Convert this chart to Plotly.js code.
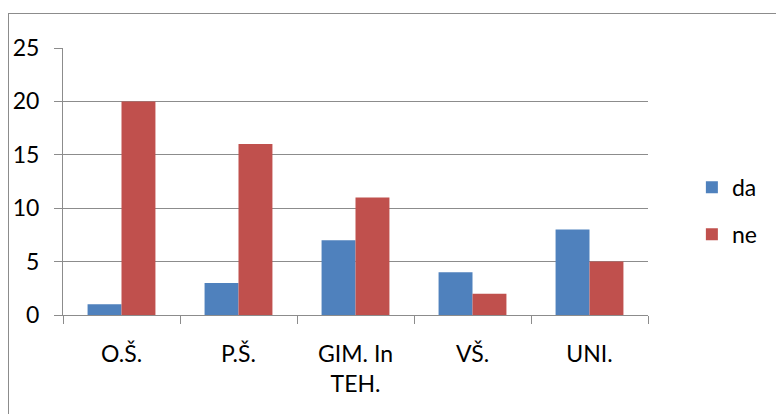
<!DOCTYPE html>
<html>
<head>
<meta charset="utf-8">
<script src="https://cdn.plot.ly/plotly-3.0.1.min.js"></script>
<style>
  html, body { margin: 0; padding: 0; background: #fff; }
  #wrap { position: relative; width: 776px; height: 414px; overflow: hidden; }
  #frame { position: absolute; left: 8px; top: 13px; width: 800px; height: 500px;
           border-left: 1px solid #8c8c8c; border-top: 1px solid #8c8c8c; }
  #chart { position: absolute; left: 0; top: 0; width: 776px; height: 414px; }
</style>
</head>
<body>
<div id="wrap">
  <div id="frame"></div>
  <div id="chart"></div>
</div>
<script>
const categories = ["O.Š.", "P.Š.", "GIM. In<br>TEH.", "VŠ.", "UNI."];
const daValues = [1, 3, 7, 4, 8];
const neValues = [20, 16, 11, 2, 5];
const seriesNames = ["da", "ne"];
const yTicks = [0, 5, 10, 15, 20, 25];

const font = { family: "Lato, 'Open Sans', sans-serif", size: 23, color: "#000" };

const traces = [
  { type: "bar", name: seriesNames[0], x: categories, y: daValues,
    marker: { color: "#4F81BD" }, legendgroup: "a" },
  { type: "bar", name: seriesNames[1], x: categories, y: neValues,
    marker: { color: "#C0504D" }, legendgroup: "b" }
];

const layout = {
  width: 776, height: 414,
  paper_bgcolor: "rgba(0,0,0,0)", plot_bgcolor: "rgba(0,0,0,0)",
  margin: { l: 63, r: 128, t: 48, b: 99, pad: 0 },
  font: font,
  barmode: "group", bargap: 0.42, bargroupgap: 0,
  showlegend: true,
  legend: { x: 1.075, y: 0.39, xanchor: "left", yanchor: "middle",
            traceorder: "grouped", tracegroupgap: 14, font: font,
            bgcolor: "rgba(0,0,0,0)" },
  xaxis: { type: "category", tickson: "boundaries", ticks: "outside", ticklen: 8,
           tickcolor: "#8c8c8c", showline: true, linecolor: "#8c8c8c", linewidth: 1,
           showgrid: false, ticklabelstandoff: 18, tickfont: font, fixedrange: true },
  yaxis: { range: [0, 25], tickvals: yTicks, ticks: "outside", ticklen: 8,
           tickcolor: "#8c8c8c", showline: true, linecolor: "#8c8c8c", linewidth: 1,
           gridcolor: "#8c8c8c", gridwidth: 1, zeroline: false,
           ticklabelstandoff: 10, tickfont: font, fixedrange: true }
};

Plotly.newPlot("chart", traces, layout, { displayModeBar: false, staticPlot: true });
</script>
</body>
</html>
